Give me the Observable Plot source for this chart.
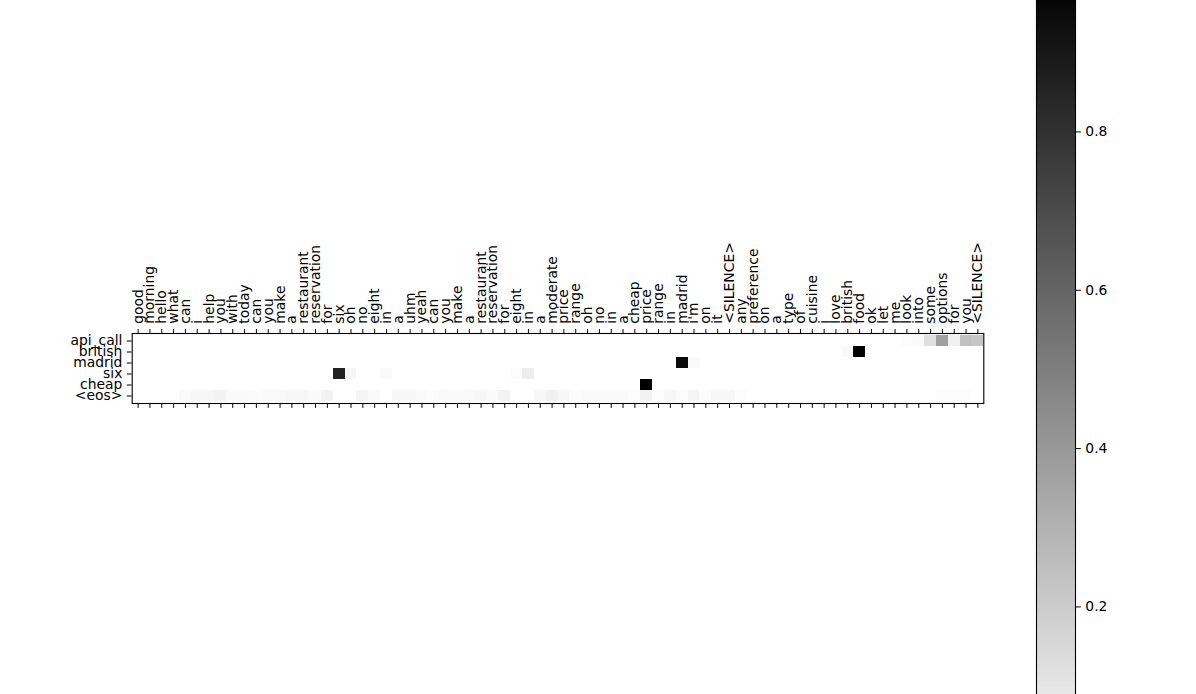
<!DOCTYPE html>
<html>
<head>
<meta charset="utf-8">
<script src="https://cdn.jsdelivr.net/npm/d3@7"></script>
<script src="https://cdn.jsdelivr.net/npm/@observablehq/plot@0.6"></script>
<style>
  html, body { margin: 0; padding: 0; background: #fff; overflow: hidden; }
  #fig { position: relative; width: 1196px; height: 694px; overflow: hidden; background: #fff; }
  #fig > svg { position: absolute; }
</style>
</head>
<body>
<div id="fig"></div>
<script>
// x-axis tokens (input utterance), 72 columns
const tokens = ["good","morning","hello","what","can","i","help","you","with","today","can","you",
  "make","a","restaurant","reservation","for","six","oh","no","eight","in","a","uhm",
  "yeah","can","you","make","a","restaurant","reservation","for","eight","in","a","moderate",
  "price","range","oh","no","in","a","cheap","price","range","in","madrid","i'm",
  "on","it","<SILENCE>","any","preference","on","a","type","of","cuisine","i","love",
  "british","food","ok","let","me","look","into","some","options","for","you","<SILENCE>"];

// y-axis labels (output tokens), top to bottom
const outputs = ["api_call","british","madrid","six","cheap","<eos>"];

// attention weights per output token
const apiCall = [
  0,0,0,0,0,0,0,0,0,0,0,0,
  0,0,0,0,0,0,0,0,0,0,0,0,
  0,0,0,0,0,0,0,0,0,0,0,0,
  0,0,0,0,0,0,0,0,0,0,0,0,
  0,0,0,0,0,0,0,0,0,0,0,0,
  0,0,0,0,0,0.01,0.02,0.12,0.37,0.06,0.24,0.22];
const british = [
  0,0,0,0,0,0,0,0,0,0,0,0,
  0,0,0,0,0,0,0,0,0,0,0,0,
  0,0,0,0,0,0,0,0,0,0,0,0,
  0,0,0,0,0,0,0,0,0,0,0,0,
  0,0,0,0,0,0,0,0,0,0,0,0,
  0.02,0.99,0,0,0,0,0,0,0,0,0,0];
const madrid = [
  0,0,0,0,0,0,0,0,0,0,0,0,
  0,0,0,0,0,0,0,0,0,0,0,0,
  0,0,0,0,0,0,0,0,0,0,0,0,
  0,0,0,0,0,0,0,0,0,0,0.95,0.02,
  0,0,0,0,0,0,0,0,0,0,0,0,
  0,0,0,0,0,0,0,0,0,0,0,0];
const six = [
  0,0,0,0,0,0,0,0,0,0,0,0,
  0,0,0,0,0,0.86,0.04,0,0,0.02,0,0,
  0,0,0,0,0,0,0,0,0.01,0.07,0,0,
  0,0,0,0,0,0,0,0,0,0,0,0,
  0,0,0,0,0,0,0,0,0,0,0,0,
  0,0,0,0,0,0,0,0,0,0,0,0];
const cheap = [
  0,0,0,0,0,0,0,0,0,0,0,0,
  0,0,0,0,0,0,0,0,0,0,0,0,
  0,0,0,0,0,0,0,0,0,0,0,0,
  0,0,0,0,0,0,0,0.99,0,0,0,0,
  0,0,0,0,0,0,0,0,0,0,0,0,
  0,0,0,0,0,0,0,0,0,0,0,0];
const eos = [
  0,0,0,0,0.02,0.03,0.03,0.05,0.02,0.02,0.01,0.025,
  0.025,0.03,0.03,0.02,0.05,0,0,0.04,0.02,0,0.03,0.03,
  0.02,0.01,0.025,0.02,0.025,0.03,0.02,0.05,0,0,0.03,0.06,
  0.03,0.01,0.02,0.02,0.02,0.02,0.01,0.05,0.01,0.03,0.01,0.04,
  0.01,0.03,0.03,0.01,0,0,0,0,0,0,0,0,
  0,0,0,0,0,0,0,0,0.01,0.01,0.01,0];

const colorbarTicks = [0.2, 0.4, 0.6, 0.8];

// ---- build table ----
const rows = [apiCall, british, madrid, six, cheap, eos];
const cells = [];
rows.forEach((vals, r) => vals.forEach((v, i) => cells.push({row: outputs[r], col: i, v})));
const vmax = d3.max(cells, d => d.v);
const vmin = 0;

const FONT = {fontFamily: "'DejaVu Sans', sans-serif", fontSize: "13.9px", color: "black", background: "transparent", overflow: "visible"};
const colorScale = {type: "linear", domain: [vmin, vmax], range: ["white", "black"], interpolate: "rgb"};
const TS = 4.9;

// ---- heatmap ----
const heat = Plot.plot({
  width: 1000,
  height: 420,
  marginTop: 333,
  marginBottom: 17,
  marginLeft: 131.7,
  marginRight: 16.7,
  style: FONT,
  x: {type: "band", domain: d3.range(tokens.length), padding: 0},
  y: {type: "band", domain: outputs, padding: 0},
  color: colorScale,
  marks: [
    Plot.cell(cells, {x: "col", y: "row", fill: "v", inset: 0, shapeRendering: "crispEdges"}),
    Plot.frame({stroke: "black", strokeWidth: 1.1}),
    Plot.axisX({anchor: "top", tickRotate: -90, tickSize: TS, tickPadding: TS, tickFormat: i => tokens[i], label: null}),
    Plot.axisX({anchor: "bottom", tickSize: TS, tickFormat: () => "", label: null}),
    Plot.axisY({anchor: "left", tickSize: TS, tickPadding: TS, label: null})
  ]
});
heat.style.left = "0px";
heat.style.top = "0px";
document.getElementById("fig").appendChild(heat);

// ---- colorbar (vertical) ----
const pxPerUnit = 791.7;          // layout: 0.8 at y=131, 0.2 at y=606
const zeroY = 131 + 0.8 * pxPerUnit;
const topY = zeroY - vmax * pxPerUnit;
const cbMT = 20, cbMB = 20;
const cbHeight = (zeroY - topY) + cbMT + cbMB;
const N = 400;
const stops = d3.range(N).map(k => vmin + (vmax - vmin) * k / N);
const step = (vmax - vmin) / N;
const cbar = Plot.plot({
  width: 196,
  height: cbHeight,
  marginTop: cbMT,
  marginBottom: cbMB,
  marginLeft: 36,
  marginRight: 121,
  style: FONT,
  x: {domain: [0, 1], axis: null},
  y: {domain: [vmin, vmax]},
  color: colorScale,
  marks: [
    Plot.rect(stops, {x1: 0, x2: 1, y1: d => d, y2: d => d + step * 1.05, fill: d => d + step / 2, inset: 0, shapeRendering: "crispEdges"}),
    Plot.frame({stroke: "black", strokeWidth: 1.1}),
    Plot.axisY({anchor: "right", ticks: colorbarTicks, tickSize: TS, tickPadding: TS, tickFormat: d3.format(".1f"), label: null})
  ]
});
cbar.style.left = "1000px";
cbar.style.top = (topY - cbMT) + "px";
document.getElementById("fig").appendChild(cbar);
</script>
</body>
</html>
